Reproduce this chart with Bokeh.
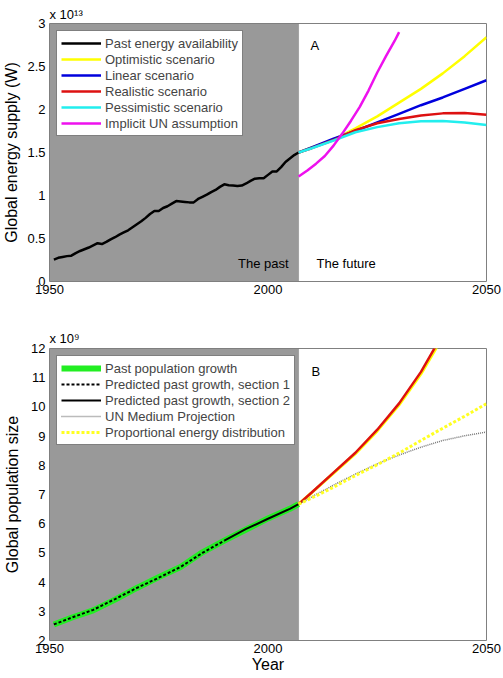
from bokeh.plotting import figure
from bokeh.models import Range1d, FixedTicker, BoxAnnotation, Label, Legend, LegendItem, Title
from bokeh.layouts import column
from bokeh.embed import file_html
from bokeh.resources import INLINE

FONT = "Liberation Sans"

# ---------------- Panel A data (units of 1e13 W) ----------------
past_years = list(range(1951, 2008))
past_energy = [0.255, 0.275, 0.285, 0.295, 0.30, 0.33, 0.355, 0.375, 0.395, 0.42,
               0.445, 0.435, 0.46, 0.49, 0.515, 0.545, 0.57, 0.595, 0.63, 0.665,
               0.70, 0.74, 0.785, 0.82, 0.82, 0.855, 0.875, 0.905, 0.935, 0.93,
               0.925, 0.92, 0.92, 0.96, 0.985, 1.01, 1.04, 1.065, 1.10, 1.13,
               1.12, 1.115, 1.11, 1.115, 1.14, 1.17, 1.195, 1.20, 1.20, 1.24,
               1.28, 1.28, 1.33, 1.39, 1.43, 1.47, 1.50]
scen_years = [2007, 2010, 2015, 2020, 2025, 2030, 2035, 2040, 2045, 2050]
optimistic = [1.50, 1.56, 1.65, 1.78, 1.92, 2.08, 2.24, 2.42, 2.62, 2.84]
linear = [1.50, 1.56, 1.66, 1.75, 1.85, 1.95, 2.05, 2.14, 2.24, 2.34]
realistic = [1.50, 1.55, 1.645, 1.76, 1.84, 1.89, 1.93, 1.955, 1.96, 1.94]
pessimistic = [1.50, 1.55, 1.64, 1.735, 1.795, 1.84, 1.862, 1.865, 1.85, 1.82]
un_years_a = [2007, 2009, 2011, 2013, 2015, 2017, 2019, 2021, 2023, 2025, 2027, 2029, 2030]
un_implicit = [1.22, 1.29, 1.37, 1.46, 1.58, 1.72, 1.87, 2.03, 2.22, 2.43, 2.62, 2.80, 2.90]
energy_ticks = [0, 0.5, 1, 1.5, 2, 2.5, 3]
energy_tick_labels = ["0", "0.5", "1", "1.5", "2", "2.5", "3"]

# ---------------- Panel B data (units of 1e9 people) ----------------
pop_years = [1951, 1955, 1960, 1965, 1970, 1975, 1980, 1985, 1990, 1995, 2000, 2005, 2007]
pop_past = [2.55, 2.78, 3.03, 3.40, 3.80, 4.17, 4.52, 5.02, 5.42, 5.80, 6.18, 6.51, 6.67]
sec1_years = [1951, 1955, 1960, 1965, 1970, 1975, 1980, 1985, 1990]
sec1_pred = [2.55, 2.78, 3.05, 3.42, 3.80, 4.15, 4.52, 5.00, 5.42]
sec2_years = [1990, 1995, 2000, 2005, 2007]
sec2_pred = [5.42, 5.82, 6.17, 6.51, 6.67]
fut_years = [2007, 2010, 2015, 2020, 2025, 2030, 2035, 2040, 2045, 2050]
un_medium = [6.67, 6.92, 7.32, 7.70, 8.05, 8.35, 8.62, 8.85, 9.01, 9.14]
proportional = [6.67, 6.88, 7.25, 7.65, 8.02, 8.42, 8.85, 9.27, 9.68, 10.11]
pop_realistic = [6.67, 7.07, 7.75, 8.43, 9.22, 10.12, 11.2, 12.5, 13.9, 15.5]
pop_optimistic = [6.67, 7.06, 7.73, 8.40, 9.18, 10.07, 11.13, 12.4, 13.8, 15.4]
pop_ticks = [2, 3, 4, 5, 6, 7, 8, 9, 10, 11, 12]
year_ticks = [1950, 2000, 2050]
split_year = 2007


def style(p, yticks, ylabels, ylabel, ylabel_standoff, xlabel=None):
    p.x_range = Range1d(1950, 2050)
    p.background_fill_color = "white"
    p.border_fill_color = "white"
    p.outline_line_color = "#808080"
    p.outline_line_width = 1
    p.xgrid.visible = False
    p.ygrid.visible = False
    for ax in (p.xaxis, p.yaxis):
        ax.axis_line_color = None
        ax.major_tick_line_color = None
        ax.minor_tick_line_color = None
        ax.major_tick_out = 0
        ax.major_tick_in = 0
        ax.minor_tick_out = 0
        ax.minor_tick_in = 0
        ax.major_label_text_font = FONT
        ax.major_label_text_font_size = "13px"
        ax.major_label_text_color = "black"
        ax.axis_label_text_font = FONT
        ax.axis_label_text_font_size = "16px"
        ax.axis_label_text_font_style = "normal"
        ax.axis_label_text_color = "black"
    p.xaxis.ticker = FixedTicker(ticks=year_ticks)
    p.xaxis.major_label_standoff = 3
    p.yaxis.ticker = FixedTicker(ticks=yticks)
    p.yaxis.major_label_overrides = {t: l for t, l in zip(yticks, ylabels)}
    p.yaxis.major_label_standoff = 4
    p.yaxis.axis_label = ylabel
    p.yaxis.axis_label_standoff = ylabel_standoff
    if xlabel:
        p.xaxis.axis_label = xlabel
        p.xaxis.axis_label_standoff = 0
    p.add_layout(BoxAnnotation(left=1950, right=split_year, fill_color="#999999",
                               fill_alpha=1, line_color="#555555", line_width=1,
                               level="underlay"))


def legend(p, items):
    lg = Legend(items=items, location="top_left", margin=7, padding=4, spacing=0,
                label_height=16, glyph_height=16, glyph_width=40, label_standoff=4,
                label_text_font=FONT, label_text_font_size="13px",
                border_line_color="black", border_line_width=1,
                background_fill_color="white", background_fill_alpha=1)
    p.add_layout(lg)


def exponent_title(p, text, standoff):
    t = Title(text=text, align="left", offset=0, standoff=standoff,
              text_font=FONT, text_font_size="13px", text_font_style="normal",
              text_color="black")
    p.title = t


# ---------------- Panel A ----------------
p1 = figure(width=503, height=302, output_backend="svg", toolbar_location=None,
            min_border_left=46, min_border_right=17, min_border_top=23, min_border_bottom=21)
p1.y_range = Range1d(0, 3)
style(p1, energy_ticks, energy_tick_labels, "Global energy supply (W)", 4)
exponent_title(p1, "x 10\u00b9\u00b3", 4)

r_past = p1.line(past_years, past_energy, line_color="black", line_width=2.5)
r_opt = p1.line(scen_years, optimistic, line_color="#ffff00", line_width=2.5)
r_lin = p1.line(scen_years, linear, line_color="#0000dd", line_width=2.5)
r_rea = p1.line(scen_years, realistic, line_color="#dd1111", line_width=2.5)
r_pes = p1.line(scen_years, pessimistic, line_color="#22eeee", line_width=2.5)
r_un = p1.line(un_years_a, un_implicit, line_color="#ee11ee", line_width=2.5)

legend(p1, [LegendItem(label="Past energy availability", renderers=[r_past]),
            LegendItem(label="Optimistic scenario", renderers=[r_opt]),
            LegendItem(label="Linear scenario", renderers=[r_lin]),
            LegendItem(label="Realistic scenario", renderers=[r_rea]),
            LegendItem(label="Pessimistic scenario", renderers=[r_pes]),
            LegendItem(label="Implicit UN assumption", renderers=[r_un])])

txt = dict(text_font=FONT, text_font_size="13px", text_color="black")
p1.add_layout(Label(x=split_year, y=0, x_offset=-10, y_offset=18, text="The past",
                    text_align="right", text_baseline="alphabetic", **txt))
p1.add_layout(Label(x=split_year, y=0, x_offset=18, y_offset=18, text="The future",
                    text_align="left", text_baseline="alphabetic", **txt))
p1.add_layout(Label(x=split_year, y=3, x_offset=12, y_offset=-22, text="A",
                    text_align="left", text_baseline="alphabetic", **txt))

# ---------------- Panel B ----------------
p2 = figure(width=503, height=376, output_backend="svg", toolbar_location=None,
            min_border_left=46, min_border_right=17, min_border_top=46, min_border_bottom=38)
p2.y_range = Range1d(2, 12)
style(p2, pop_ticks, [str(t) for t in pop_ticks], "Global population size", 7, "Year")
exponent_title(p2, "x 10\u2079", 5)

g_past = p2.line(pop_years, pop_past, line_color="#22ee22", line_width=6)
g_s1 = p2.line(sec1_years, sec1_pred, line_color="black", line_width=2, line_dash="3 2")
g_s2 = p2.line(sec2_years, sec2_pred, line_color="black", line_width=2)
p2.line(fut_years, pop_optimistic, line_color="#ffff00", line_width=3)
p2.line(fut_years, pop_realistic, line_color="#dd1111", line_width=2.5)
g_un = p2.line(fut_years, un_medium, line_color="#777777", line_width=1.5, line_dash="1 1")
g_prop = p2.line(fut_years, proportional, line_color="#ffff22", line_width=3, line_dash="3 2")

legend(p2, [LegendItem(label="Past population growth", renderers=[g_past]),
            LegendItem(label="Predicted past growth, section 1", renderers=[g_s1]),
            LegendItem(label="Predicted past growth, section 2", renderers=[g_s2]),
            LegendItem(label="UN Medium Projection", renderers=[g_un]),
            LegendItem(label="Proportional energy distribution", renderers=[g_prop])])

p2.add_layout(Label(x=split_year, y=12, x_offset=13, y_offset=-23, text="B",
                    text_align="left", text_baseline="alphabetic", **txt))

layout = column(p1, p2, spacing=0)
open("out.html", "w").write(file_html(layout, INLINE))
